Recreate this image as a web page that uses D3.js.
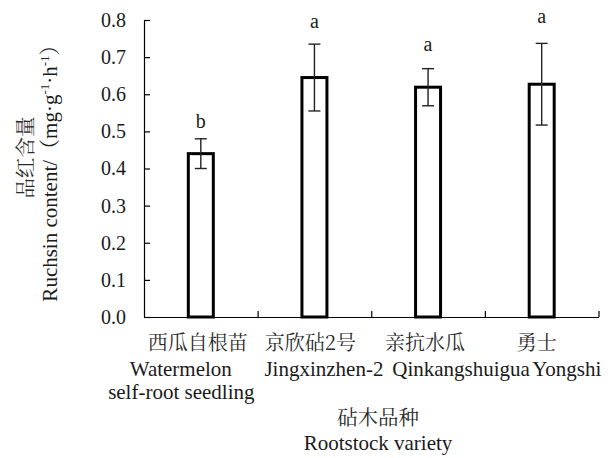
<!DOCTYPE html>
<html>
<head>
<meta charset="utf-8">
<script src="https://cdn.jsdelivr.net/npm/d3@7"></script>
<style>
  html, body { margin: 0; padding: 0; background: #fff; }
  svg { display: block; }
</style>
</head>
<body>
<div id="chart"></div>
<script>
// ---- data ----
const categoriesZh = ["西瓜自根苗", "京欣砧2号", "亲抗水瓜", "勇士"];
const categoriesEn = [["Watermelon", "self-root seedling"], ["Jingxinzhen-2"], ["Qinkangshuigua"], ["Yongshi"]];
const means = [0.44, 0.645, 0.619, 0.627];
const errors = [0.04, 0.09, 0.05, 0.11];
const letters = ["b", "a", "a", "a"];
const letterValues = [0.508, 0.778, 0.717, 0.793];
const yTicks = [0.0, 0.1, 0.2, 0.3, 0.4, 0.5, 0.6, 0.7, 0.8];

// ---- layout ----
const W = 610, H = 458;
const mLeft = 144, mRight = 598.5, mTop = 20, mBottom = 317;
const SERIF = "'Liberation Serif', 'Times New Roman', serif";
const CJK = "'Noto Serif CJK SC', 'Noto Sans CJK SC', sans-serif";
const textColor = "#1a1a1a";
const cjkColor = "#2a2a2a";
// horizontal nudges of label lines relative to the category center (layout only)
const zhOffsets = [-3, -4, -3, -5];
const enOffsets = [[-20, -19.5], [9.5], [33], [25]];

const svg = d3.select("#chart").append("svg")
  .attr("width", W).attr("height", H)
  .style("background", "#fff");

const idx = d3.range(categoriesZh.length);
const x = d3.scaleBand().domain(idx).range([mLeft, mRight]).padding(0);
const xb = d3.scaleLinear().domain([0, categoriesZh.length]).range([mLeft, mRight]);
const y = d3.scaleLinear().domain([0, 0.8]).range([mBottom, mTop]);

const barW = x.bandwidth() * 0.22;

// bars
svg.append("g").selectAll("rect").data(idx).join("rect")
  .attr("x", i => x(i) + x.bandwidth() / 2 - barW / 2)
  .attr("y", i => y(means[i]))
  .attr("width", barW)
  .attr("height", i => y(0) - y(means[i]))
  .attr("fill", "#fff")
  .attr("stroke", "#000")
  .attr("stroke-width", 3);

// error bars
const eg = svg.append("g").attr("stroke", "#222").attr("stroke-width", 1.4);
idx.forEach(i => {
  const cx = x(i) + x.bandwidth() / 2;
  const capW = 6;
  eg.append("line").attr("x1", cx).attr("x2", cx)
    .attr("y1", y(means[i] + errors[i])).attr("y2", y(means[i] - errors[i]));
  eg.append("line").attr("x1", cx - capW).attr("x2", cx + capW)
    .attr("y1", y(means[i] + errors[i])).attr("y2", y(means[i] + errors[i]));
  eg.append("line").attr("x1", cx - capW).attr("x2", cx + capW)
    .attr("y1", y(means[i] - errors[i])).attr("y2", y(means[i] - errors[i]));
});

// significance letters
svg.append("g").selectAll("text").data(idx).join("text")
  .attr("x", i => x(i) + x.bandwidth() / 2)
  .attr("y", i => y(letterValues[i]))
  .attr("text-anchor", "middle")
  .attr("font-family", SERIF)
  .attr("font-size", 20)
  .attr("fill", textColor)
  .text(i => letters[i]);

// y axis
const yAxis = svg.append("g").attr("transform", `translate(${mLeft},0)`)
  .call(d3.axisLeft(y).tickValues(yTicks).tickFormat(d3.format(".1f"))
    .tickSizeInner(-6).tickSizeOuter(0).tickPadding(18));
yAxis.select(".domain").attr("stroke", "#000").attr("stroke-width", 1.2);
yAxis.selectAll(".tick line").attr("stroke", "#000").attr("stroke-width", 1.2);
yAxis.selectAll(".tick text").attr("font-family", SERIF).attr("font-size", 20).attr("fill", textColor);

// x axis
const xAxis = svg.append("g").attr("transform", `translate(0,${mBottom})`)
  .call(d3.axisBottom(xb).tickValues(d3.range(1, categoriesZh.length + 1))
    .tickFormat("").tickSizeInner(-6).tickSizeOuter(0));
xAxis.select(".domain").attr("stroke", "#000").attr("stroke-width", 1.2);
xAxis.selectAll(".tick line").attr("stroke", "#000").attr("stroke-width", 1.2);

// category labels
const cl = svg.append("g").attr("fill", textColor);
idx.forEach(i => {
  const cx = x(i) + x.bandwidth() / 2;
  cl.append("text").attr("x", cx + zhOffsets[i]).attr("y", 350)
    .attr("text-anchor", "middle").attr("font-family", CJK).attr("font-size", 20)
    .attr("fill", cjkColor)
    .text(categoriesZh[i]);
  categoriesEn[i].forEach((line, j) => {
    cl.append("text").attr("x", cx + enOffsets[i][j]).attr("y", 376 + j * 23)
      .attr("text-anchor", "middle").attr("font-family", SERIF).attr("font-size", 21)
      .text(line);
  });
});

// x axis title
svg.append("text").attr("x", 378).attr("y", 425)
  .attr("text-anchor", "middle").attr("font-family", CJK).attr("font-size", 20.5)
  .attr("fill", cjkColor).text("砧木品种");
svg.append("text").attr("x", 378).attr("y", 450)
  .attr("text-anchor", "middle").attr("font-family", SERIF).attr("font-size", 21)
  .attr("fill", textColor).text("Rootstock variety");

// y axis title
svg.append("text")
  .attr("transform", "translate(33,157.5) rotate(-90)")
  .attr("text-anchor", "middle").attr("font-family", CJK).attr("font-size", 20.5)
  .attr("fill", cjkColor).text("品红含量");

const yt = svg.append("text")
  .attr("transform", "translate(57,168) rotate(-90)")
  .attr("text-anchor", "middle").attr("font-family", SERIF).attr("font-size", 21)
  .attr("fill", textColor);
yt.append("tspan").text("Ruchsin content/");
yt.append("tspan").attr("font-family", CJK).text("（");
yt.append("tspan").text("mg·g");
yt.append("tspan").attr("font-size", 13).attr("dy", -8).text("-1");
yt.append("tspan").attr("dy", 8).text("·h");
yt.append("tspan").attr("font-size", 13).attr("dy", -8).text("-1");
yt.append("tspan").attr("dy", 8).attr("font-family", CJK).text("）");
</script>
</body>
</html>
